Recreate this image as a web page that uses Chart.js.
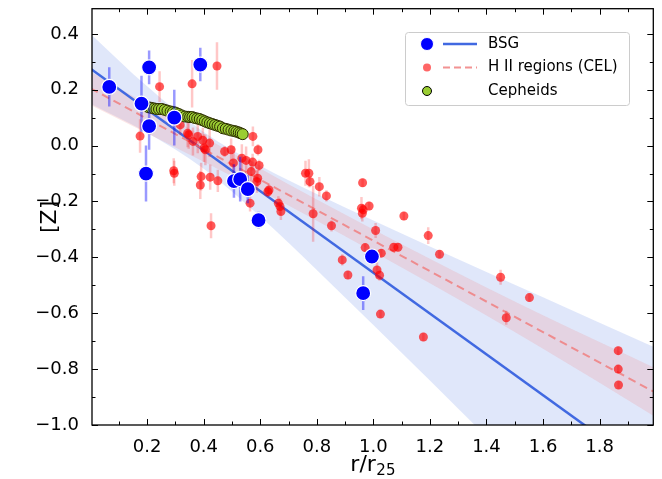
<!DOCTYPE html>
<html>
<head>
<meta charset="utf-8">
<script src="https://cdn.jsdelivr.net/npm/chart.js@4.4.1/dist/chart.umd.min.js"></script>
<style>
  html, body { margin: 0; padding: 0; background: #fff; }
  #wrap { width: 662px; height: 479px; }
</style>
</head>
<body>
<div id="wrap"><canvas id="chart" width="662" height="479"></canvas></div>
<script>
// ---- data ----
// blue supergiants
const bsgR   = [0.066, 0.207, 0.180, 0.207, 0.196, 0.296, 0.388, 0.507, 0.529, 0.556, 0.594, 0.995, 0.964];
const bsgZ   = [0.210, 0.280, 0.150, 0.070, -0.100, 0.100, 0.290, -0.127, -0.120, -0.156, -0.267, -0.397, -0.528];
const bsgErr = [0.070, 0.060, 0.100, 0.085, 0.100, 0.100, 0.060, 0.060, 0.080, 0.050, 0.030, 0.020, 0.060];

// H II regions (CEL)
const hiiR = [0.175, 0.244, 0.359, 0.447, 0.294, 0.296, 0.317, 0.347, 0.362, 0.379,
              0.397, 0.406, 0.421, 0.391, 0.388, 0.423, 0.450, 0.426, 0.474, 0.497,
              0.505, 0.535, 0.550, 0.573, 0.596, 0.568, 0.591, 0.588, 0.574, 0.592,
              0.564, 0.627, 0.631, 0.664, 0.670, 0.673, 0.760, 0.772, 0.776, 0.809,
              0.834, 0.787, 0.852, 0.890, 0.910, 0.962, 0.958, 0.961, 0.964, 0.985,
              1.008, 0.971, 1.028, 1.013, 1.022, 1.025, 1.072, 1.087, 1.108, 1.194,
              1.234, 1.177, 1.450, 1.470, 1.552, 1.866, 1.866, 1.867, 0.343, 0.401];
const hiiZ = [0.034, 0.211, 0.221, 0.285, -0.090, -0.099, 0.074, 0.039, 0.015, 0.033,
              0.019, -0.015, 0.009, -0.111, -0.141, -0.113, -0.126, -0.287, -0.021, -0.015,
              -0.062, -0.045, -0.053, -0.059, -0.071, -0.093, -0.117, -0.129, 0.033, -0.015,
              -0.206, -0.165, -0.159, -0.206, -0.218, -0.236, -0.099, -0.099, -0.129, -0.147,
              -0.180, -0.244, -0.287, -0.409, -0.463, -0.133, -0.224, -0.242, -0.230, -0.216,
              -0.304, -0.365, -0.385, -0.445, -0.464, -0.603, -0.364, -0.364, -0.252, -0.322,
              -0.389, -0.685, -0.471, -0.616, -0.544, -0.734, -0.800, -0.857, 0.044, -0.009];
const hiiErr = [0.060, 0.055, 0.085, 0.085, 0.045, 0.045, 0.035, 0.050, 0.050, 0.060,
                0.045, 0.055, 0.050, 0.050, 0.050, 0.045, 0.040, 0.045, 0.020, 0.040,
                0.060, 0.050, 0.050, 0.030, 0.020, 0.040, 0.030, 0.040, 0.035, 0.020,
                0.030, 0.020, 0.020, 0.025, 0.030, 0.030, 0.045, 0.050, 0.020, 0.035,
                0.020, 0.100, 0.020, 0.020, 0.015, 0.015, 0.040, 0.030, 0.020, 0.015,
                0.027, 0.015, 0.015, 0.030, 0.020, 0.015, 0.015, 0.015, 0.015, 0.030,
                0.015, 0.015, 0.027, 0.025, 0.015, 0.015, 0.015, 0.015, 0.050, 0.050];

// Cepheids
const cephR = [0.205, 0.215, 0.225, 0.233, 0.242, 0.252, 0.262, 0.272, 0.283, 0.292,
               0.301, 0.312, 0.322, 0.334, 0.345, 0.352, 0.360, 0.368, 0.377, 0.386,
               0.395, 0.404, 0.413, 0.422, 0.431, 0.440, 0.449, 0.458, 0.468, 0.478,
               0.488, 0.498, 0.508, 0.516, 0.524, 0.531, 0.538];
const cephZ = [0.137, 0.135, 0.133, 0.131, 0.131, 0.131, 0.128, 0.125, 0.122, 0.120,
               0.118, 0.113, 0.108, 0.104, 0.103, 0.102, 0.102, 0.099, 0.097, 0.095,
               0.091, 0.087, 0.083, 0.080, 0.077, 0.074, 0.071, 0.068, 0.062, 0.060,
               0.057, 0.054, 0.052, 0.050, 0.047, 0.044, 0.041];

// fitted gradients and their shaded bands
const fitR     = [0.0, 1.99];
const bsgFitZ  = [0.275, -1.178];
const hiiFitZ  = [0.205, -0.880];
const bandR    = [0.0, 0.2, 0.4, 0.6, 0.8, 1.0, 1.2, 1.4, 1.6, 1.8, 1.99];
const bsgUpper = [0.400, 0.212, 0.049, -0.072, -0.173, -0.268, -0.361, -0.452, -0.543, -0.634, -0.720];
const bsgLower = [0.150, 0.046, -0.083, -0.254, -0.445, -0.642, -0.841, -1.042, -1.243, -1.444, -1.636];
const hiiUpper = [0.265, 0.148, 0.032, -0.082, -0.193, -0.300, -0.405, -0.508, -0.607, -0.703, -0.793];
const hiiLower = [0.145, 0.044, -0.058, -0.162, -0.269, -0.380, -0.493, -0.608, -0.727, -0.849, -0.967];

// ticks
const xMajor = [0.2, 0.4, 0.6, 0.8, 1.0, 1.2, 1.4, 1.6, 1.8];
const xMinor = [0.1, 0.3, 0.5, 0.7, 0.9, 1.1, 1.3, 1.5, 1.7, 1.9];
const yMajor = [-1.0, -0.8, -0.6, -0.4, -0.2, 0.0, 0.2, 0.4];
const yMinor = [-0.9, -0.7, -0.5, -0.3, -0.1, 0.1, 0.3];

const FONT = 'DejaVu Sans';

const pts = (xs, ys) => xs.map((v, i) => ({ x: v, y: ys[i] }));
const fmt = v => {
    const s = Math.abs(v) < 1e-9 ? '0.0' : v.toFixed(1);
    return s.replace('-', '\u2212');
};

// vertical error bars, drawn just under their own dataset
const errorBars = {
    id: 'errorBars',
    beforeDatasetDraw(chart, args) {
        const ds = chart.data.datasets[args.index];
        if (!ds.errors) return;
        const { ctx, chartArea: a, scales: { x, y } } = chart;
        ctx.save();
        ctx.beginPath();
        ctx.rect(a.left, a.top, a.width, a.height);
        ctx.clip();
        ctx.strokeStyle = ds.errorColor;
        ctx.lineWidth = ds.errorWidth;
        ds.data.forEach((p, i) => {
            const px = x.getPixelForValue(p.x);
            ctx.beginPath();
            ctx.moveTo(px, y.getPixelForValue(p.y - ds.errors[i]));
            ctx.lineTo(px, y.getPixelForValue(p.y + ds.errors[i]));
            ctx.stroke();
        });
        ctx.restore();
    }
};

// box around the axes with inward ticks on all four sides
const frame = {
    id: 'frame',
    afterDatasetsDraw(chart) {
        const { ctx, chartArea: a, scales: { x, y } } = chart;
        ctx.save();
        ctx.strokeStyle = '#000';
        ctx.lineWidth = 1;
        const seg = (x1, y1, x2, y2) => {
            ctx.beginPath(); ctx.moveTo(x1, y1); ctx.lineTo(x2, y2); ctx.stroke();
        };
        const xt = (vals, len) => vals.forEach(v => {
            const p = Math.round(x.getPixelForValue(v)) + 0.5;
            seg(p, a.bottom, p, a.bottom - len);
            seg(p, a.top, p, a.top + len);
        });
        const yt = (vals, len) => vals.forEach(v => {
            const p = Math.round(y.getPixelForValue(v)) + 0.5;
            seg(a.left, p, a.left + len, p);
            seg(a.right, p, a.right - len, p);
        });
        xt(xMajor, 6); xt(xMinor, 3.5);
        yt(yMajor, 6); yt(yMinor, 3.5);
        ctx.lineWidth = 1.3;
        ctx.strokeRect(a.left, a.top, a.width, a.height);
        ctx.restore();
    }
};

// legend box and x axis title (with subscript)
const extras = {
    id: 'extras',
    afterDraw(chart) {
        const { ctx, chartArea: a } = chart;
        ctx.save();

        // x title
        ctx.fillStyle = '#000';
        ctx.textBaseline = 'alphabetic';
        ctx.font = `22px "${FONT}"`;
        const main = 'r/r';
        const wMain = ctx.measureText(main).width;
        ctx.font = `15px "${FONT}"`;
        const wSub = ctx.measureText('25').width;
        const x0 = (a.left + a.right) / 2 - (wMain + wSub) / 2;
        ctx.font = `22px "${FONT}"`;
        ctx.fillText(main, x0, 471);
        ctx.font = `15px "${FONT}"`;
        ctx.fillText('25', x0 + wMain + 0.5, 475);

        // legend
        const lx = 405, ly = 32, lw = 224, lh = 73;
        ctx.beginPath();
        ctx.roundRect(lx + 0.5, ly + 0.5, lw, lh, 3);
        ctx.fillStyle = 'rgba(255,255,255,0.8)';
        ctx.fill();
        ctx.strokeStyle = '#cccccc';
        ctx.lineWidth = 1;
        ctx.stroke();

        const mx = 427, l1 = 443, l2 = 477, tx = 488;
        const rows = [44, 67.5, 91];

        // BSG
        ctx.strokeStyle = '#4169e1';
        ctx.lineWidth = 2.5;
        ctx.setLineDash([]);
        ctx.beginPath(); ctx.moveTo(l1, rows[0]); ctx.lineTo(l2, rows[0]); ctx.stroke();
        ctx.beginPath(); ctx.arc(mx, rows[0], 6.5, 0, Math.PI * 2);
        ctx.fillStyle = '#0000ff'; ctx.fill();
        ctx.strokeStyle = '#fff'; ctx.lineWidth = 1; ctx.stroke();

        // H II
        ctx.strokeStyle = 'rgba(240,128,128,0.85)';
        ctx.lineWidth = 2;
        ctx.setLineDash([7, 4]);
        ctx.beginPath(); ctx.moveTo(l1, rows[1]); ctx.lineTo(l2, rows[1]); ctx.stroke();
        ctx.setLineDash([]);
        ctx.beginPath(); ctx.arc(mx, rows[1], 4, 0, Math.PI * 2);
        ctx.fillStyle = 'rgba(255,0,0,0.6)'; ctx.fill();

        // Cepheids
        ctx.beginPath(); ctx.arc(mx, rows[2], 4.5, 0, Math.PI * 2);
        ctx.fillStyle = '#9acd32'; ctx.fill();
        ctx.strokeStyle = '#000'; ctx.lineWidth = 1; ctx.stroke();

        ctx.fillStyle = '#000';
        ctx.font = `15px "${FONT}"`;
        ctx.textBaseline = 'middle';
        ctx.fillText('BSG', tx, rows[0]);
        ctx.fillText('H II regions (CEL)', tx, rows[1]);
        ctx.fillText('Cepheids', tx, rows[2]);
        ctx.restore();
    }
};

const bandStyle = {
    showLine: true, pointRadius: 0, borderWidth: 0,
    cubicInterpolationMode: 'monotone'
};

new Chart(document.getElementById('chart'), {
    type: 'scatter',
    data: {
        datasets: [
            { label: 'bsg band hi', data: pts(bandR, bsgUpper), ...bandStyle,
              fill: '+1', backgroundColor: 'rgba(65,105,225,0.16)', order: 7 },
            { label: 'bsg band lo', data: pts(bandR, bsgLower), ...bandStyle, order: 7 },
            { label: 'hii band hi', data: pts(bandR, hiiUpper), ...bandStyle,
              fill: '+1', backgroundColor: 'rgba(240,128,128,0.2)', order: 6 },
            { label: 'hii band lo', data: pts(bandR, hiiLower), ...bandStyle, order: 6 },
            { label: 'BSG fit', data: pts(fitR, bsgFitZ), showLine: true, pointRadius: 0,
              borderColor: '#4169e1', borderWidth: 2.5, order: 5 },
            { label: 'H II fit', data: pts(fitR, hiiFitZ), showLine: true, pointRadius: 0,
              borderColor: 'rgba(240,128,128,0.85)', borderWidth: 2, borderDash: [8, 5], order: 4 },
            { label: 'H II regions (CEL)', data: pts(hiiR, hiiZ), errors: hiiErr,
              errorColor: 'rgba(255,0,0,0.22)', errorWidth: 2.5,
              pointRadius: 4.5, backgroundColor: 'rgba(255,0,0,0.65)', borderWidth: 0, order: 3 },
            { label: 'Cepheids', data: pts(cephR, cephZ),
              pointRadius: 5.5, backgroundColor: '#9acd32', borderColor: '#2a2a00', borderWidth: 1, order: 2 },
            { label: 'BSG', data: pts(bsgR, bsgZ), errors: bsgErr,
              errorColor: 'rgba(0,0,255,0.4)', errorWidth: 2.5,
              pointRadius: 7.5, backgroundColor: '#0000ff', borderColor: '#ffffff', borderWidth: 1.2, order: 1 }
        ]
    },
    options: {
        responsive: false,
        devicePixelRatio: 1,
        animation: false,
        layout: { padding: { top: 8, right: 7, left: 0, bottom: 0 } },
        plugins: {
            legend: { display: false },
            tooltip: { enabled: false }
        },
        scales: {
            x: {
                type: 'linear',
                min: 0.005,
                max: 1.99,
                grid: { display: false },
                border: { display: false },
                afterBuildTicks: s => { s.ticks = xMajor.map(v => ({ value: v })); },
                afterFit: s => { s.height = 54; s.paddingLeft = 0; s.paddingRight = 0; },
                ticks: {
                    color: '#000',
                    padding: 4,
                    font: { family: FONT, size: 18 },
                    callback: v => fmt(v)
                }
            },
            y: {
                type: 'linear',
                min: -1.0,
                max: 0.49,
                grid: { display: false },
                border: { display: false },
                afterBuildTicks: s => { s.ticks = yMajor.map(v => ({ value: v })); },
                afterFit: s => { s.width = 92; s.paddingTop = 0; s.paddingBottom = 0; },
                title: {
                    display: true,
                    text: '[Z]',
                    color: '#000',
                    font: { family: FONT, size: 22 },
                    padding: { top: 37, bottom: 0 }
                },
                ticks: {
                    color: '#000',
                    padding: 5,
                    font: { family: FONT, size: 18 },
                    callback: v => fmt(v)
                }
            }
        }
    },
    plugins: [errorBars, frame, extras]
});
</script>
</body>
</html>
